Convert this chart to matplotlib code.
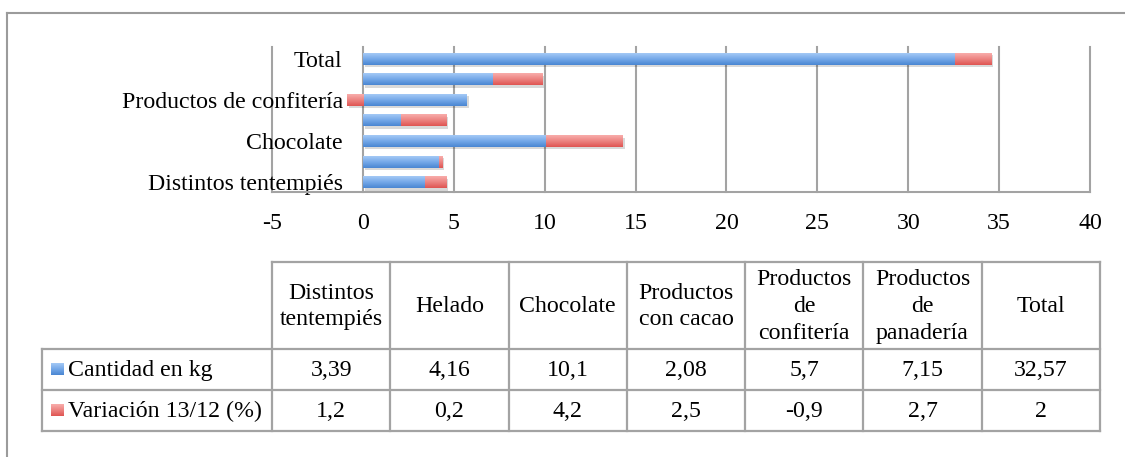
import numpy as np
import matplotlib
matplotlib.use("Agg")
import matplotlib.pyplot as plt
import matplotlib.patheffects as pe
from matplotlib.colors import LinearSegmentedColormap

plt.rcParams["font.family"] = ["Liberation Serif", "DejaVu Serif"]

# ---- data -------------------------------------------------------------
categories = ["Distintos tentempiés", "Helado", "Chocolate", "Productos con cacao",
              "Productos de confitería", "Productos de panadería", "Total"]
header_labels = ["Distintos\ntentempiés", "Helado", "Chocolate", "Productos\ncon cacao",
                 "Productos\nde\nconfitería", "Productos\nde\npanadería", "Total"]
cantidad = [3.39, 4.16, 10.1, 2.08, 5.7, 7.15, 32.57]
variacion = [1.2, 0.2, 4.2, 2.5, -0.9, 2.7, 2]
series_names = ["Cantidad en kg", "Variación 13/12 (%)"]
x_ticks = list(range(-5, 45, 5))

W, H = 1125, 457
FS = 17.2
GRID = "#a3a3a3"

blue_cmap = LinearSegmentedColormap.from_list("blue", ["#4a86d2", "#74a8e8", "#a4c9f6"])
red_cmap = LinearSegmentedColormap.from_list("red", ["#df5552", "#ec8381", "#f8adab"])
grad = np.linspace(0, 1, 64).reshape(-1, 1)


def fmt(v):
    return f"{v:g}".replace(".", ",")


fig = plt.figure(figsize=(W / 100, H / 100), dpi=100)

# overlay in pixel coordinates for the frame and the data table
ov = fig.add_axes([0, 0, 1, 1])
ov.axis("off")

# outer frame (top and left edges)
ov.plot([7, 7], [H, 13], color="#9b9b9b", lw=1.5)
ov.plot([7, W], [13, 13], color="#9b9b9b", lw=1.5)

# table grid
n = len(categories)
col_w = (1100 - 272) / n
col_x = 272 + col_w * np.arange(n + 1)
y_top, y_h, y_r1, y_r2 = 262, 349, 390, 431
lw_t = 1.6
ov.plot([col_x[0], col_x[-1]], [y_top, y_top], color=GRID, lw=lw_t)
for yy in (y_h, y_r1, y_r2):
    ov.plot([42, col_x[-1]], [yy, yy], color=GRID, lw=lw_t)
ov.plot([42, 42], [y_h, y_r2], color=GRID, lw=lw_t)
for xx in col_x:
    ov.plot([xx, xx], [y_top, y_r2], color=GRID, lw=lw_t)

for i in range(n):
    cx = (col_x[i] + col_x[i + 1]) / 2
    ov.text(cx, (y_top + y_h) / 2 + 1, header_labels[i], ha="center", va="center",
            fontsize=FS, linespacing=1.35, multialignment="center")
    ov.text(cx, (y_h + y_r1) / 2 + 1, fmt(cantidad[i]), ha="center", va="center", fontsize=FS)
    ov.text(cx, (y_r1 + y_r2) / 2 + 1, fmt(variacion[i]), ha="center", va="center", fontsize=FS)

# legend keys and row labels
for (r0, r1), name, cmap in zip(((y_h, y_r1), (y_r1, y_r2)), series_names, (blue_cmap, red_cmap)):
    cy = (r0 + r1) / 2
    ov.imshow(grad, cmap=cmap, extent=(51, 64, cy + 6, cy - 6), origin="lower",
              aspect="auto", interpolation="bilinear")
    ov.text(68, cy + 1, name, ha="left", va="center", fontsize=FS)

ov.set_xlim(0, W)
ov.set_ylim(H, 0)

# ---- bar chart ----------------------------------------------------------
ax = fig.add_axes([272 / W, 1 - 192 / H, (1090 - 272) / W, (192 - 47) / H])
ax.set_facecolor("none")

y = np.arange(n)
cant = np.array(cantidad)
var = np.array(variacion)
var_left = np.where(var >= 0, cant, 0)
bar_h = 0.58
shadow = [pe.SimplePatchShadow(offset=(1.5, -1.8), shadow_rgbFace="k", alpha=0.15), pe.Normal()]

b1 = ax.barh(y, cant, height=bar_h, color="#74a8e8", path_effects=shadow, zorder=3)
b2 = ax.barh(y, var, left=var_left, height=bar_h, color="#ec8381", path_effects=shadow, zorder=3)

for bars, cmap in ((b1, blue_cmap), (b2, red_cmap)):
    for bar in bars:
        bb = bar.get_bbox()
        ax.imshow(grad, cmap=cmap, origin="lower", aspect="auto", interpolation="bilinear",
                  extent=(min(bb.x0, bb.x1), max(bb.x0, bb.x1), bb.y0, bb.y1), zorder=4)

ax.set_xlim(-5, 40)
ax.set_ylim(-0.48, n - 0.43)
ax.set_xticks(x_ticks)
ax.set_xticklabels([str(t) for t in x_ticks])
ax.tick_params(axis="x", length=0, pad=15, labelsize=FS)
ax.grid(axis="x", color=GRID, lw=1.5, zorder=1)
ax.set_axisbelow(True)
for gl in ax.get_xgridlines():
    gl.set_clip_on(False)

ax.set_yticks(y)
ax.set_yticklabels([c if i % 2 == 0 else "" for i, c in enumerate(categories)])
ax.tick_params(axis="y", length=0, pad=14.5, labelsize=FS)

ax.spines["left"].set_position(("data", 0))
ax.spines["left"].set_visible(False)
ax.spines["top"].set_visible(False)
ax.spines["right"].set_visible(False)
ax.spines["bottom"].set_color(GRID)
ax.spines["bottom"].set_linewidth(1.5)

fig.savefig("out.png", dpi=100)
